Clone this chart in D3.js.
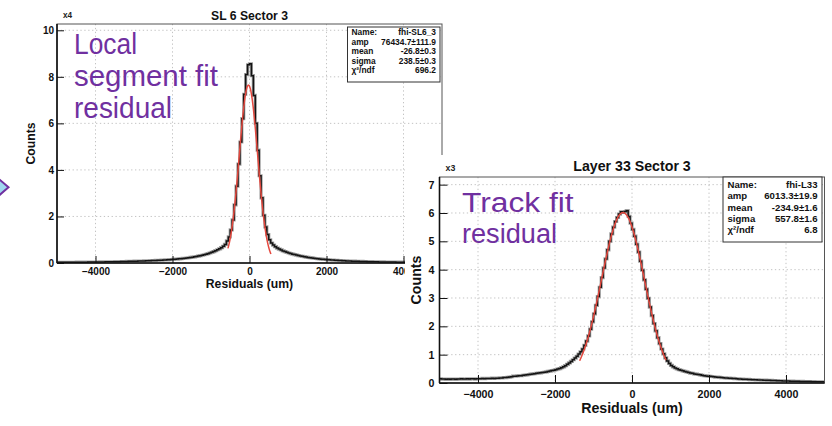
<!DOCTYPE html>
<html>
<head>
<meta charset="utf-8">
<script src="https://cdn.jsdelivr.net/npm/d3@7"></script>
<style>
  body { margin: 0; background: #fff; }
  svg { display: block; }
  text { font-family: "Liberation Sans", Arial, sans-serif; }
</style>
</head>
<body>
<svg id="chart" width="832" height="426"></svg>
<script>
// ---- shared axis data ----
const xDomain = [-5000, 5000];
const xMajorTicks = [-4000, -2000, 0, 2000, 4000];
const leftYTicks = [0, 2, 4, 6, 8, 10];
const rightYTicks = [0, 1, 2, 3, 4, 5, 6, 7];

// ---- SL 6 Sector 3: local segment fit residuals, 50 um bins, counts x10^4 ----
const leftCounts = [
  0.027,0.029,0.028,0.030,0.029,0.031,0.030,0.032,0.033,0.032,
  0.034,0.035,0.034,0.036,0.037,0.036,0.038,0.039,0.041,0.040,
  0.043,0.044,0.045,0.047,0.046,0.049,0.050,0.052,0.051,0.054,
  0.056,0.058,0.059,0.061,0.063,0.065,0.067,0.070,0.072,0.074,
  0.077,0.079,0.082,0.085,0.087,0.090,0.093,0.096,0.100,0.103,
  0.107,0.111,0.115,0.119,0.123,0.128,0.133,0.138,0.144,0.150,
  0.156,0.163,0.170,0.178,0.186,0.195,0.205,0.215,0.226,0.238,
  0.251,0.265,0.280,0.296,0.314,0.333,0.354,0.377,0.402,0.430,
  0.46,0.49,0.53,0.57,0.61,0.66,0.72,0.80,0.95,1.12,
  1.42,1.85,2.50,3.30,4.25,5.20,6.20,7.25,8.10,8.52,
  8.56,8.05,7.20,6.00,4.85,3.75,2.80,2.05,1.55,1.22,
  1.00,0.86,0.77,0.70,0.64,0.60,0.56,0.52,0.49,0.46,
  0.43,0.405,0.38,0.36,0.34,0.32,0.30,0.285,0.27,0.255,
  0.241,0.228,0.216,0.205,0.194,0.184,0.175,0.166,0.158,0.150,
  0.143,0.136,0.130,0.124,0.118,0.113,0.108,0.103,0.099,0.095,
  0.091,0.087,0.083,0.080,0.077,0.074,0.071,0.068,0.066,0.063,
  0.061,0.059,0.057,0.055,0.053,0.052,0.050,0.048,0.047,0.045,
  0.044,0.043,0.041,0.040,0.039,0.038,0.037,0.036,0.035,0.034,
  0.033,0.032,0.032,0.031,0.030,0.029,0.029,0.028,0.027,0.027,
  0.026,0.026,0.025,0.025,0.024,0.024,0.023,0.023,0.022,0.022
];
const leftFit = [76434.7, -26.8, 238.5];      // amp, mean, sigma
const leftFitErr = [111.9, 0.3, 0.3];
const leftFitRange = [-560, 556];
const leftChi2 = 696.2;
const leftName = "fhi-SL6_3";

// ---- Layer 33 Sector 3: track fit residuals, 50 um bins, counts x10^3 ----
const rightCounts = [
  0.15,0.14,0.14,0.13,0.14,0.13,0.14,0.14,0.13,0.14,
  0.14,0.15,0.14,0.14,0.15,0.14,0.15,0.15,0.14,0.15,
  0.15,0.15,0.16,0.15,0.16,0.16,0.16,0.17,0.16,0.17,
  0.17,0.18,0.18,0.19,0.19,0.20,0.21,0.22,0.24,0.24,
  0.25,0.26,0.26,0.27,0.28,0.29,0.30,0.31,0.32,0.33,
  0.34,0.35,0.36,0.37,0.38,0.39,0.41,0.42,0.44,0.45,
  0.47,0.49,0.51,0.54,0.57,0.61,0.66,0.71,0.76,0.82,
  0.88,0.94,1.02,1.10,1.20,1.33,1.48,1.66,1.90,2.16,
  2.44,2.74,3.05,3.38,3.72,4.06,4.38,4.70,5.00,5.26,
  5.50,5.70,5.84,5.96,6.04,6.02,6.05,6.08,5.88,5.64,
  5.42,5.18,4.90,4.62,4.30,3.98,3.64,3.31,2.99,2.68,
  2.38,2.10,1.84,1.60,1.39,1.20,1.03,0.89,0.78,0.69,
  0.62,0.57,0.53,0.50,0.47,0.45,0.43,0.41,0.39,0.37,
  0.35,0.34,0.32,0.31,0.30,0.29,0.27,0.26,0.25,0.24,
  0.235,0.23,0.22,0.21,0.205,0.20,0.19,0.185,0.18,0.175,
  0.17,0.165,0.16,0.155,0.15,0.145,0.14,0.135,0.13,0.128,
  0.125,0.122,0.118,0.115,0.112,0.109,0.106,0.103,0.10,0.098,
  0.096,0.093,0.09,0.088,0.085,0.082,0.08,0.077,0.075,0.072,
  0.07,0.068,0.066,0.064,0.062,0.06,0.058,0.056,0.055,0.053,
  0.052,0.05,0.049,0.048,0.046,0.045,0.044,0.043,0.042,0.041
];
const rightFit = [6013.3, -234.9, 557.8];
const rightFitErr = [19.9, 1.6, 1.6];
const rightFitRange = [-1361, 883];
const rightChi2 = 6.8;
const rightName = "fhi-L33";

const statLabels = ["Name:", "amp", "mean", "sigma", "\u03C7\u00B2/ndf"];

const svg = d3.select("#chart");
let clipId = 0;

function drawPanel(cfg) {
  const g = svg.append("g");
  if (cfg.bg) {
    g.append("rect").attr("x", cfg.bg[0]).attr("y", cfg.bg[1])
      .attr("width", 832 - cfg.bg[0]).attr("height", 426 - cfg.bg[1]).attr("fill", "#fff");
  }
  const x = d3.scaleLinear(xDomain, [cfg.fx0, cfg.fx1]);
  const y = d3.scaleLinear([0, cfg.ymax], [cfg.fy1, cfg.fy0]);

  // dotted grid at major ticks
  g.append("g").selectAll("line").data(xMajorTicks).join("line")
    .attr("x1", d => x(d)).attr("x2", d => x(d))
    .attr("y1", cfg.fy0).attr("y2", cfg.fy1)
    .attr("stroke", "#bcbcbc").attr("stroke-width", 0.9).attr("stroke-dasharray", "1.3,2.6");
  g.append("g").selectAll("line").data(cfg.yTicks.filter(d => d > 0)).join("line")
    .attr("x1", cfg.fx0).attr("x2", cfg.fx1)
    .attr("y1", d => y(d)).attr("y2", d => y(d))
    .attr("stroke", "#bcbcbc").attr("stroke-width", 0.9).attr("stroke-dasharray", "1.3,2.6");

  // frame
  g.append("rect").attr("x", cfg.fx0).attr("y", cfg.fy0)
    .attr("width", cfg.fx1 - cfg.fx0).attr("height", cfg.fy1 - cfg.fy0)
    .attr("fill", "none").attr("stroke", "#555").attr("stroke-width", 1);

  // clip for the plotted data
  const cid = "clip" + (clipId++);
  g.append("clipPath").attr("id", cid).append("rect")
    .attr("x", cfg.fx0).attr("y", cfg.fy0)
    .attr("width", cfg.fx1 - cfg.fx0).attr("height", cfg.fy1 - cfg.fy0);
  const plot = g.append("g").attr("clip-path", `url(#${cid})`);

  // histogram as a step outline
  const bw = (xDomain[1] - xDomain[0]) / cfg.counts.length;
  const pts = cfg.counts.flatMap((v, i) => [[xDomain[0] + i * bw, v], [xDomain[0] + (i + 1) * bw, v]]);
  const line = d3.line().x(d => x(d[0])).y(d => y(d[1]));
  plot.append("path").attr("d", line(pts)).attr("fill", "none")
    .attr("stroke", "#a0a0a0").attr("stroke-width", 3.2).attr("stroke-linejoin", "miter");
  plot.append("path").attr("d", line(pts)).attr("fill", "none")
    .attr("stroke", "#141414").attr("stroke-width", 1.5).attr("stroke-linejoin", "miter");

  // gaussian fit curve from the fitted parameters
  const [amp, mean, sigma] = cfg.fit;
  const xs = d3.range(cfg.range[0], cfg.range[1], 4).concat([cfg.range[1]]);
  const gauss = xs.map(v => [v, amp / cfg.scale * Math.exp(-0.5 * ((v - mean) / sigma) ** 2)]);
  plot.append("path").attr("d", line(gauss)).attr("fill", "none")
    .attr("stroke", "#e5493f").attr("stroke-width", 1.5);

  // x axis: ticks pointing into the frame
  const xMinor = d3.range(-4800, 5000, 400).filter(d => d % 2000 !== 0);
  const ax = g.append("g").attr("transform", `translate(0,${cfg.fy1})`);
  ax.call(d3.axisBottom(x).tickValues(xMinor).tickSize(-cfg.minorLen).tickFormat(""));
  ax.call(d3.axisBottom(x).tickValues(xMajorTicks).tickSize(-cfg.majorLen)
    .tickPadding(cfg.xPad).tickFormat(d3.format("d")));
  ax.selectAll("text").attr("font-size", cfg.tickFont).attr("font-weight", "bold")
    .attr("fill", "#111").attr("font-family", "Liberation Sans, Arial, sans-serif");
  ax.selectAll(".domain").remove();
  ax.selectAll("line").attr("stroke", "#111").attr("stroke-width", 1);
  g.append("line").attr("x1", cfg.fx0).attr("x2", cfg.fx1).attr("y1", cfg.fy1).attr("y2", cfg.fy1)
    .attr("stroke", "#111").attr("stroke-width", 1.6);

  // y axis
  const yMinor = d3.range(0, cfg.ymax, cfg.yMinorStep)
    .filter(d => !cfg.yTicks.some(t => Math.abs(t - d) < 1e-6));
  const ay = g.append("g").attr("transform", `translate(${cfg.fx0},0)`);
  ay.call(d3.axisLeft(y).tickValues(yMinor).tickSize(-cfg.minorLen).tickFormat(""));
  ay.call(d3.axisLeft(y).tickValues(cfg.yTicks).tickSize(-cfg.majorLen)
    .tickPadding(cfg.yPad).tickFormat(d3.format("d")));
  ay.selectAll("text").attr("font-size", cfg.tickFont).attr("font-weight", "bold")
    .attr("fill", "#111").attr("font-family", "Liberation Sans, Arial, sans-serif");
  ay.selectAll(".domain").remove();
  ay.selectAll("line").attr("stroke", "#111").attr("stroke-width", 1);
  g.append("line").attr("x1", cfg.fx0).attr("x2", cfg.fx0).attr("y1", cfg.fy0).attr("y2", cfg.fy1)
    .attr("stroke", "#111").attr("stroke-width", 1.6);

  // titles
  g.append("text").attr("x", (cfg.fx0 + cfg.fx1) / 2).attr("y", cfg.titleY)
    .attr("text-anchor", "middle").attr("font-weight", "bold").attr("font-size", cfg.titleFont)
    .attr("fill", "#111").text(cfg.title);
  g.append("text").attr("x", (cfg.fx0 + cfg.fx1) / 2).attr("y", cfg.xTitleY)
    .attr("text-anchor", "middle").attr("font-weight", "bold").attr("font-size", cfg.titleFont)
    .attr("fill", "#111").text("Residuals (um)");
  g.append("text").attr("transform", `translate(${cfg.yTitleX},${(cfg.fy0 + cfg.fy1) / 2}) rotate(-90)`)
    .attr("text-anchor", "middle").attr("font-weight", "bold").attr("font-size", cfg.titleFont)
    .attr("fill", "#111").text("Counts");
  g.append("text").attr("x", cfg.fx0 + 6).attr("y", cfg.fy0 - 6)
    .attr("font-family", "Liberation Serif, serif").attr("font-weight", "bold")
    .attr("font-size", cfg.tickFont * 0.82).attr("fill", "#222").text(cfg.expLabel);

  // statistics box
  const sb = cfg.stat;
  const sg = g.append("g");
  sg.append("rect").attr("x", sb.x0).attr("y", sb.y0).attr("width", sb.x1 - sb.x0)
    .attr("height", sb.y1 - sb.y0).attr("fill", "#fff").attr("stroke", "#333").attr("stroke-width", 1);
  const [fa, fm, fs] = cfg.fit;
  const [ea, em, es] = cfg.fitErr;
  const vals = [cfg.name, `${fa.toFixed(1)}\u00B1${ea.toFixed(1)}`,
    `${fm.toFixed(1)}\u00B1${em.toFixed(1)}`, `${fs.toFixed(1)}\u00B1${es.toFixed(1)}`,
    cfg.chi2.toFixed(1)];
  statLabels.forEach((lab, i) => {
    const by = sb.first + i * sb.step;
    sg.append("text").attr("x", sb.x0 + sb.pad).attr("y", by).attr("font-size", sb.font)
      .attr("font-weight", "bold").attr("fill", "#111").text(lab);
    sg.append("text").attr("x", sb.x1 - sb.pad).attr("y", by).attr("font-size", sb.font)
      .attr("text-anchor", "end").attr("font-weight", "bold").attr("fill", "#111").text(vals[i]);
  });
}

drawPanel({
  fx0: 57, fx1: 442, fy0: 24, fy1: 263, ymax: 10.27,
  yTicks: leftYTicks, yMinorStep: 0.4, counts: leftCounts, scale: 1e4,
  fit: leftFit, fitErr: leftFitErr, range: leftFitRange, chi2: leftChi2, name: leftName,
  majorLen: 7, minorLen: 3.5, xPad: 5, yPad: 3, tickFont: 10, titleFont: 12.2,
  title: "SL 6 Sector 3", titleY: 19.5, xTitleY: 288, yTitleX: 35, expLabel: "x4",
  stat: { x0: 347.5, x1: 440, y0: 27, y1: 82, pad: 4, first: 35, step: 9.6, font: 8.4 }
});

drawPanel({
  bg: [405, 155],
  fx0: 439.5, fx1: 824.5, fy0: 177, fy1: 383, ymax: 7.27,
  yTicks: rightYTicks, yMinorStep: 0.2, counts: rightCounts, scale: 1e3,
  fit: rightFit, fitErr: rightFitErr, range: rightFitRange, chi2: rightChi2, name: rightName,
  majorLen: 8, minorLen: 4, xPad: 7.5, yPad: 5, tickFont: 10.7, titleFont: 14.2,
  title: "Layer 33 Sector 3", titleY: 170.5, xTitleY: 413, yTitleX: 421, expLabel: "x3",
  stat: { x0: 723, x1: 822, y0: 177, y1: 242, pad: 4.5, first: 188, step: 11.3, font: 9.6 }
});

// handwritten-style annotations
const notes = [
  { x: 74, y: 54.3, text: "Local", w: 63, size: 29 },
  { x: 74, y: 86, text: "segment fit", w: 144, size: 29 },
  { x: 74, y: 118.3, text: "residual", w: 98, size: 29 },
  { x: 462, y: 211.7, text: "Track fit", w: 111.7, size: 27 },
  { x: 462, y: 243.3, text: "residual", w: 95, size: 27 }
];
svg.append("g").selectAll("text").data(notes).join("text")
  .attr("x", d => d.x).attr("y", d => d.y)
  .attr("font-family", "Open Sans, sans-serif").attr("font-size", d => d.size)
  .attr("fill", "#7030a0")
  .attr("textLength", d => d.w).attr("lengthAdjust", "spacingAndGlyphs")
  .text(d => d.text);

// arrow tip at the left edge
svg.append("path").attr("d", "M-4,176.5 L8.5,187.3 L-4,198")
  .attr("fill", "#9fd6ef").attr("stroke", "#7030a0").attr("stroke-width", 2);
</script>
</body>
</html>
